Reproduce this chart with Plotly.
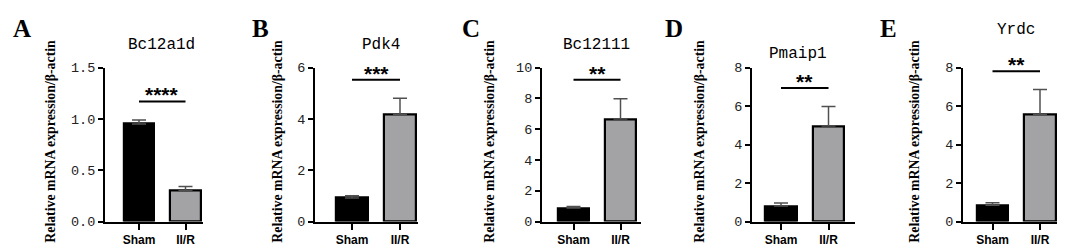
import plotly.graph_objects as go

# ---- data ----
genes = ["Bc12a1d", "Pdk4", "Bc12111", "Pmaip1", "Yrdc"]
panel_letters = ["A", "B", "C", "D", "E"]
groups = ["Sham", "II/R"]
sham_mean = [0.95, 0.92, 0.87, 0.80, 0.85]
sham_err = [0.04, 0.08, 0.10, 0.16, 0.13]
ir_mean = [0.30, 4.18, 6.65, 4.96, 5.57]
ir_err = [0.04, 0.62, 1.32, 1.01, 1.29]
sig_labels = ["****", "***", "**", "**", "**"]
y_max = [1.5, 6, 10, 8, 8]
y_tickvals = [[0, 0.5, 1.0, 1.5], [0, 2, 4, 6], [0, 2, 4, 6, 8, 10], [0, 2, 4, 6, 8], [0, 2, 4, 6, 8]]
y_ticktext = [["0.0", "0.5", "1.0", "1.5"], ["0", "2", "4", "6"], ["0", "2", "4", "6", "8", "10"],
              ["0", "2", "4", "6", "8"], ["0", "2", "4", "6", "8"]]

# ---- layout (pixel geometry) ----
W, H = 1065, 246
ax_left = [97, 307, 534, 744, 955]
ax_right = [195, 410, 633, 847, 1062]
c0 = [131, 344, 565.5, 773, 984.5]
unit = [46.5, 48, 47, 47.5, 47.5]
y_bot_px, y_top_px = 221, 57
sig_line_y = [1.17, 5.52, 9.2, 6.93, 7.8]
title_xy = [(153, 33), (373, 33), (588, 33), (790, 43), (1008, 17)]
letter_x = [3, 242, 452, 655, 870]
ytitle_x = [43, 270, 482, 692, 907]

bar_colors = ["#000000", "#A3A3A6"]
err_color = "#505050"

fig = go.Figure()
annotations = []
shapes = []

for i in range(5):
    ax = "" if i == 0 else str(i + 1)
    xref = "x" + ax
    yref = "y" + ax
    fig.add_trace(go.Bar(
        x=[0, 1], y=[sham_mean[i], ir_mean[i]],
        width=0.66,
        marker=dict(color=bar_colors, line=dict(color="black", width=2.2)),
        error_y=dict(type="data", symmetric=False, array=[sham_err[i], ir_err[i]],
                     arrayminus=[0, 0], color=err_color, thickness=1.5, width=7),
        xaxis=xref, yaxis=yref, showlegend=False,
    ))
    xr = [(ax_left[i] - c0[i]) / unit[i], (ax_right[i] - c0[i]) / unit[i]]
    fig.layout["xaxis" + ax] = dict(
        domain=[ax_left[i] / W, ax_right[i] / W], range=xr, anchor=yref,
        tickvals=[0, 1], ticktext=groups, ticks="outside", ticklen=6, tickwidth=1.5,
        tickcolor="black", showline=True, linecolor="black", linewidth=2,
        showgrid=False, zeroline=False, fixedrange=True,
        tickfont=dict(family="Liberation Sans", size=12, color="black", weight="bold"),
    )
    fig.layout["yaxis" + ax] = dict(
        domain=[(H - y_bot_px) / H, (H - y_top_px) / H], range=[0, y_max[i]], anchor=xref,
        tickvals=y_tickvals[i], ticktext=y_ticktext[i], ticks="outside", ticklen=5, tickwidth=1.5,
        tickcolor="black", showline=True, linecolor="black", linewidth=2,
        showgrid=False, zeroline=False,
        tickfont=dict(family="Liberation Mono", size=13.5, color="#222222"),
    )
    # significance bracket
    shapes.append(dict(type="line", xref=xref, yref=yref, x0=0, x1=1,
                       y0=sig_line_y[i], y1=sig_line_y[i], line=dict(color="black", width=2)))
    annotations.append(dict(xref=xref, yref=yref, x=0.5, y=sig_line_y[i], text=sig_labels[i],
                            showarrow=False, yanchor="bottom", yshift=-7,
                            font=dict(family="Liberation Sans", size=21, color="black", weight="bold")))
    # gene title
    tx, ty = title_xy[i]
    annotations.append(dict(xref="paper", yref="paper", x=tx / W, y=(H - ty) / H, text=genes[i],
                            showarrow=False, xanchor="center", yanchor="middle",
                            font=dict(family="Liberation Mono", size=16, color="black")))
    # panel letter
    annotations.append(dict(xref="paper", yref="paper", x=letter_x[i] / W, y=(H - 15) / H,
                            text=panel_letters[i], showarrow=False, xanchor="left", yanchor="middle",
                            font=dict(family="Liberation Serif", size=25, color="black", weight="bold")))
    # y-axis title
    annotations.append(dict(xref="paper", yref="paper", x=ytitle_x[i] / W, y=(H - 136) / H,
                            text="Relative mRNA expression/β-actin", textangle=-90, showarrow=False,
                            xanchor="center", yanchor="middle",
                            font=dict(family="Liberation Serif", size=13.8, color="black", weight="bold")))

fig.update_layout(
    width=W, height=H, margin=dict(l=0, r=0, t=0, b=0),
    paper_bgcolor="white", plot_bgcolor="white",
    annotations=annotations, shapes=shapes, bargap=0,
)
fig.write_html("out.html")
